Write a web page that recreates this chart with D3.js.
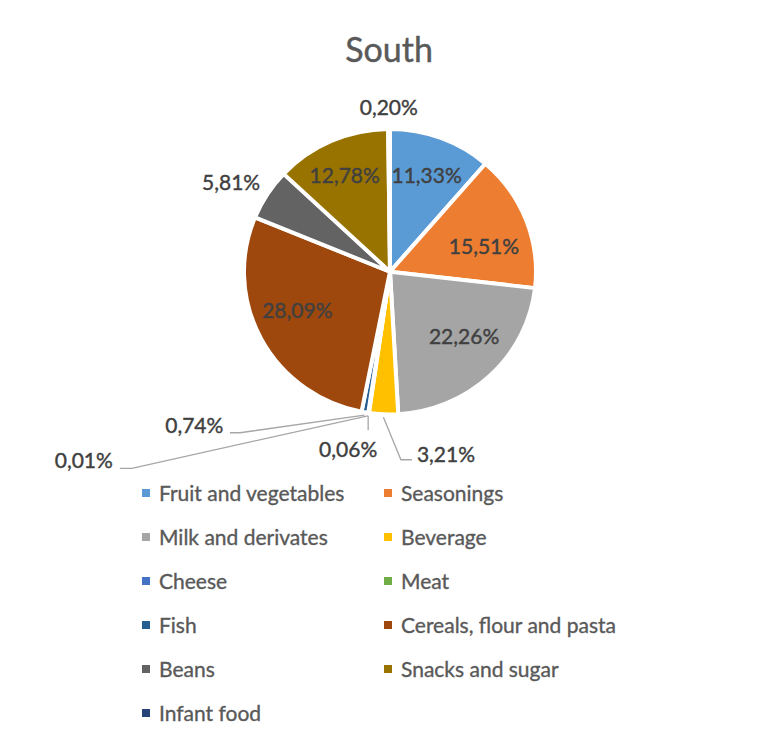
<!DOCTYPE html>
<html>
<head>
<meta charset="utf-8">
<script src="https://cdn.jsdelivr.net/npm/d3@7"></script>
<style>
  html, body { margin: 0; padding: 0; background: #fff; }
  svg { display: block; font-family: Lato, "Open Sans", sans-serif; }
</style>
</head>
<body>
<svg id="chart" width="758" height="742"></svg>
<script>
// Share of purchases by food group, South region
const categories = [
  "Fruit and vegetables", "Seasonings", "Milk and derivates", "Beverage",
  "Cheese", "Meat", "Fish", "Cereals, flour and pasta", "Beans",
  "Snacks and sugar", "Infant food"
];
const shares = [11.33, 15.51, 22.26, 3.21, 0.06, 0.01, 0.74, 28.09, 5.81, 12.78, 0.20];
const colors = [
  "#5B9BD5", "#ED7D31", "#A5A5A5", "#FFC000", "#4472C4", "#70AD47",
  "#255E91", "#9E480E", "#636363", "#997300", "#264478"
];
const title = "South";

// How each value label is placed: inside the slice, just outside it, or on a leader line
const labelMode = {
  "Fruit and vegetables": "inside", "Seasonings": "inside", "Milk and derivates": "inside",
  "Cereals, flour and pasta": "inside", "Snacks and sugar": "inside",
  "Beans": "outside", "Infant food": "outside",
  "Beverage": "callout", "Cheese": "callout", "Meat": "callout", "Fish": "callout"
};
// Small px nudges for inside labels, away from the bisector point
const insideNudge = {
  "Seasonings": [-4, 12], "Milk and derivates": [2, -10],
  "Cereals, flour and pasta": [0, -10], "Snacks and sugar": [-3, -2]
};
// Leader-line bends and label anchors, in px relative to the slice's rim point
const callouts = {
  "Beverage": { bends: [[17.5, 42.5], [28.5, 42.5]], label: [33.5, 44.5], anchor: "start" },
  "Cheese":   { bends: [[0, 14.5]], label: [-20, 41], anchor: "middle" },
  "Meat":     { bends: [[-236, 52.5], [-248, 52.5]], label: [-255, 52], anchor: "end" },
  "Fish":     { bends: [[-124.4, 17.5], [-134.4, 17.5]], label: [-141, 18], anchor: "end" }
};

const svg = d3.select("#chart");
const cx = 390, cy = 271.7, rx = 146, ry = 142.7;
const sy = ry / rx;
const fmt = v => v.toFixed(2).replace(".", ",") + "%";

const data = categories.map((c, i) => ({ name: c, value: shares[i], color: colors[i] }));
const pie = d3.pie().value(d => d.value).sort(null);
const arcs = pie(data);
const arc = d3.arc().innerRadius(0).outerRadius(rx);

// Title
svg.append("text")
  .attr("x", 389).attr("y", 61.5)
  .attr("text-anchor", "middle")
  .attr("font-size", 34)
  .attr("fill", "#595959")
  .attr("stroke", "#595959").attr("stroke-width", 0.4)
  .text(title);

// Slices
const g = svg.append("g").attr("transform", `translate(${cx},${cy}) scale(1,${sy})`);
g.selectAll("path.slice")
  .data(arcs)
  .join("path")
  .attr("class", "slice")
  .attr("d", arc)
  .attr("fill", d => d.data.color)
  .attr("stroke", "#fff")
  .attr("stroke-width", 4)
  .attr("stroke-linejoin", "round");

// point on the (slightly elliptical) pie at angle a, radius factor k of rx plus extra px
const pt = (a, k, extra = 0) => [
  cx + Math.sin(a) * (rx * k + extra),
  cy - Math.cos(a) * (ry * k + extra)
];

const labelSize = 21, capHalf = 7.5;
const leaders = svg.append("g")
  .attr("fill", "none")
  .attr("stroke", "#A6A6A6")
  .attr("stroke-width", 1.3);
const labels = svg.append("g")
  .attr("font-size", labelSize)
  .attr("fill", "#404040")
  .attr("stroke", "#404040").attr("stroke-width", 0.4);

arcs.forEach(d => {
  const name = d.data.name;
  const mid = (d.startAngle + d.endAngle) / 2;
  const mode = labelMode[name];
  const txt = fmt(d.data.value);
  if (mode === "inside") {
    const [x, y] = pt(mid, 0.72);
    const n = insideNudge[name] || [0, 0];
    labels.append("text").attr("x", x + n[0]).attr("y", y + n[1] + capHalf)
      .attr("text-anchor", "middle").text(txt);
  } else if (mode === "outside") {
    const [px, py] = pt(mid, 1, 14);
    const t = labels.append("text").attr("text-anchor", "middle").text(txt);
    const w = t.node().getComputedTextLength();
    const x = px + (w / 2) * Math.sin(mid);
    const y = py - capHalf * Math.cos(mid);
    t.attr("x", x).attr("y", y + capHalf);
  } else {
    const c = callouts[name];
    const [ex, ey] = pt(mid, 1, 3);
    const pts = [[ex, ey]].concat(c.bends.map(b => [ex + b[0], ey + b[1]]));
    leaders.append("path").attr("d", d3.line()(pts));
    labels.append("text")
      .attr("x", ex + c.label[0]).attr("y", ey + c.label[1])
      .attr("text-anchor", c.anchor).text(txt);
  }
});

// Legend: two columns, filled row by row
const legend = svg.append("g").attr("font-size", 21).attr("fill", "#595959")
  .attr("stroke", "#595959").attr("stroke-width", 0.35);
const colX = [142, 384], row0 = 493, rowStep = 44;
data.forEach((d, i) => {
  const x = colX[i % 2], y = row0 + Math.floor(i / 2) * rowStep;
  legend.append("rect").attr("x", x).attr("y", y - 4).attr("width", 8).attr("height", 8)
    .attr("fill", d.color).attr("stroke", "none");
  legend.append("text").attr("x", x + 17).attr("y", y + capHalf).text(d.name);
});
</script>
</body>
</html>
